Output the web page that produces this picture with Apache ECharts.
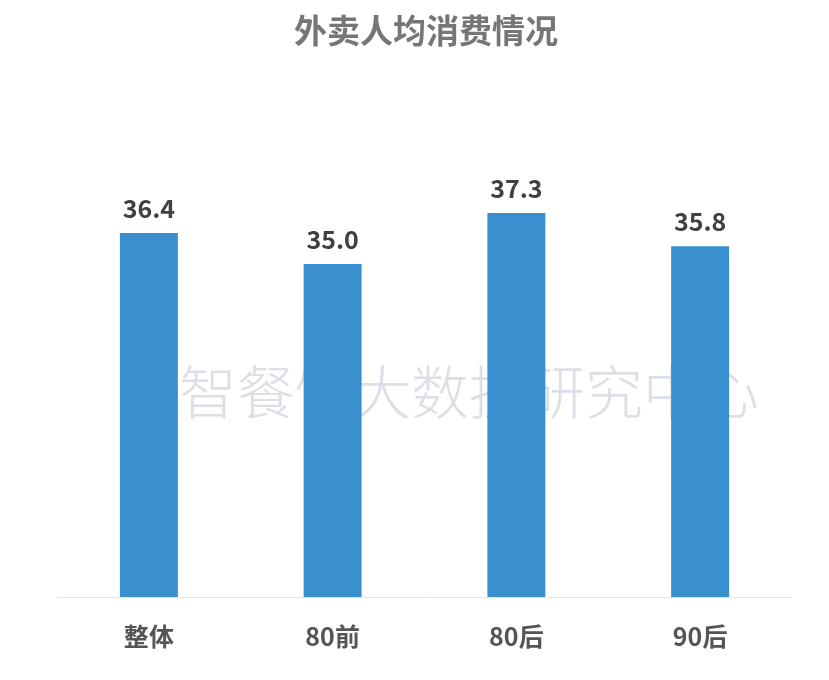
<!DOCTYPE html>
<html>
<head>
<meta charset="utf-8">
<script src="https://cdn.jsdelivr.net/npm/echarts@6/dist/echarts.min.js"></script>
<style>html,body{margin:0;padding:0;background:#fff}#c{width:829px;height:680px}</style>
</head>
<body>
<div id="c"></div>
<script>
const categories = ['整体', '80前', '80后', '90后'];
const values = [36.4, 35.0, 37.3, 35.8];
const titleText = '外卖人均消费情况';
const watermarkText = '云智餐饮大数据研究中心';

const chart = echarts.init(document.getElementById('c'), null, {renderer: 'canvas'});
const font = '"Noto Sans CJK SC", "Noto Sans", sans-serif';
chart.setOption({
  backgroundColor: '#ffffff',
  animation: false,
  title: {
    text: titleText,
    left: 289,
    top: 9,
    textStyle: {fontFamily: font, fontSize: 33, fontWeight: 'bold', color: '#767676'}
  },
  graphic: [{
    type: 'text',
    x: 440,
    y: 392,
    z: -10,
    silent: true,
    style: {text: watermarkText, fontFamily: font, fontSize: 58, fontWeight: 300, fill: '#dcdfe6', align: 'center', verticalAlign: 'middle'}
  }],
  grid: {left: 57, right: 37, top: 153, bottom: 83, containLabel: false},
  xAxis: {
    type: 'category',
    data: categories,
    axisLine: {lineStyle: {color: '#e3e3e3', width: 1}},
    axisTick: {show: false},
    axisLabel: {margin: 27, fontFamily: font, fontSize: 25, fontWeight: 'bold', color: '#555555'}
  },
  yAxis: {
    type: 'value',
    min: 20,
    max: 40,
    show: false,
    splitLine: {show: false}
  },
  series: [{
    type: 'bar',
    data: values,
    barWidth: 58,
    z: 5,
    itemStyle: {color: '#3a8fcf'},
    label: {
      show: true,
      position: 'top',
      distance: 12,
      formatter: p => p.value.toFixed(1),
      fontFamily: font,
      fontSize: 25,
      fontWeight: 'bold',
      color: '#404040'
    }
  }]
});
</script>
</body>
</html>
